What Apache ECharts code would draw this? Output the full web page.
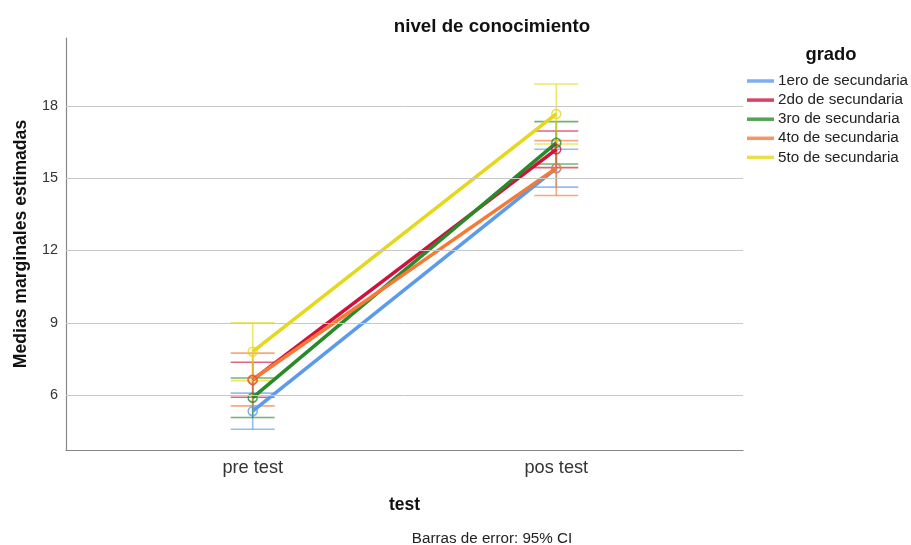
<!DOCTYPE html>
<html>
<head>
<meta charset="utf-8">
<script src="https://cdn.jsdelivr.net/npm/echarts@6/dist/echarts.min.js"></script>
<style>
  html, body { margin: 0; padding: 0; background: #fff; }
  #chart { width: 911px; height: 545px; }
</style>
</head>
<body>
<div id="chart"></div>
<script>
// Test occasions (x positions 1 and 2)
const testLabels = ['pre test', 'pos test'];
const testPos = [1, 2];

// Groups
const groups = ['1ero de secundaria', '2do de secundaria', '3ro de secundaria', '4to de secundaria', '5to de secundaria'];
const groupColors = ['#5B9BEA', '#D2103C', '#2A8A2A', '#F47A36', '#E3D81C'];

// Estimated marginal means [pre, pos]
const means1 = [5.33, 15.41];
const means2 = [6.63, 16.20];
const means3 = [5.89, 16.47];
const means4 = [6.65, 15.42];
const means5 = [7.80, 17.67];

// 95% CI lower / upper bounds [pre, pos]
const low1 = [4.58, 14.63];
const high1 = [6.08, 16.20];
const low2 = [5.91, 15.44];
const high2 = [7.36, 16.96];
const low3 = [5.07, 15.59];
const high3 = [6.71, 17.35];
const low4 = [5.55, 14.28];
const high4 = [7.74, 16.56];
const low5 = [6.60, 16.42];
const high5 = [9.00, 18.91];

const yTicks = [6, 9, 12, 15, 18];

const allMeans = [means1, means2, means3, means4, means5];
const allLow = [low1, low2, low3, low4, low5];
const allHigh = [high1, high2, high3, high4, high5];

const FONT = 'Liberation Sans, Arial, sans-serif';

const chart = echarts.init(document.getElementById('chart'));

const series = [];

// Horizontal reference lines at each tick value
series.push({
  type: 'line',
  name: '_grid',
  data: [],
  silent: true,
  z: 1,
  markLine: {
    silent: true,
    symbol: ['none', 'none'],
    label: { show: false },
    lineStyle: { color: '#c8c8c8', width: 1, type: 'solid' },
    data: yTicks.map(v => ({ yAxis: v }))
  }
});

// Error bars (CI whiskers with caps)
groups.forEach((g, i) => {
  series.push({
    type: 'custom',
    name: g + ' CI',
    z: 3,
    silent: true,
    itemStyle: { color: groupColors[i] },
    data: testPos.map((x, j) => [x, allLow[i][j], allHigh[i][j]]),
    renderItem: function (params, api) {
      const x = api.value(0);
      const lo = api.coord([x, api.value(1)]);
      const hi = api.coord([x, api.value(2)]);
      const cap = 22;
      const style = { stroke: groupColors[i], lineWidth: 1.6, opacity: 0.65 };
      return {
        type: 'group',
        children: [
          { type: 'line', shape: { x1: lo[0], y1: lo[1], x2: hi[0], y2: hi[1] }, style: style },
          { type: 'line', shape: { x1: lo[0] - cap, y1: lo[1], x2: lo[0] + cap, y2: lo[1] }, style: style },
          { type: 'line', shape: { x1: hi[0] - cap, y1: hi[1], x2: hi[0] + cap, y2: hi[1] }, style: style }
        ]
      };
    }
  });
});

// Mean lines with hollow markers
groups.forEach((g, i) => {
  series.push({
    type: 'line',
    name: g,
    z: 4,
    data: testPos.map((x, j) => [x, allMeans[i][j]]),
    symbol: 'circle',
    symbolSize: 9,
    itemStyle: { color: 'rgba(0,0,0,0)', borderColor: groupColors[i], borderWidth: 1.5, opacity: 0.8 },
    lineStyle: { color: groupColors[i], width: 3.6 },
    emphasis: { disabled: true }
  });
});

chart.setOption({
  animation: false,
  backgroundColor: '#ffffff',
  title: [
    {
      text: 'nivel de conocimiento',
      left: 492, top: 17, padding: 0, textAlign: 'center',
      textStyle: { fontFamily: FONT, fontSize: 18.7, fontWeight: 'bold', color: '#111' }
    },
    {
      text: 'grado',
      left: 831, top: 46, padding: 0, textAlign: 'center',
      textStyle: { fontFamily: FONT, fontSize: 18.4, fontWeight: 'bold', color: '#111' }
    },
    {
      text: 'Barras de error: 95% CI',
      left: 492, top: 531, padding: 0, textAlign: 'center',
      textStyle: { fontFamily: FONT, fontSize: 15.2, fontWeight: 'normal', color: '#222' }
    }
  ],
  legend: {
    data: groups.map((g, i) => ({ name: g, itemStyle: { color: groupColors[i], borderWidth: 0 } })),
    orient: 'vertical',
    left: 747, top: 73.5,
    padding: 0,
    itemWidth: 27, itemHeight: 3.5, itemGap: 4.1,
    icon: 'rect',
    textStyle: { fontFamily: FONT, fontSize: 15.2, lineHeight: 15, color: '#222', padding: [0, 0, 0, -1] },
    selectedMode: false
  },
  grid: { left: 66, right: 168, top: 38, bottom: 95 },
  xAxis: {
    type: 'value',
    min: 0.385, max: 2.615,
    name: 'test',
    nameLocation: 'middle',
    nameGap: 46,
    nameTextStyle: { fontFamily: FONT, fontSize: 17.5, fontWeight: 'bold', color: '#111' },
    axisLine: { show: true, lineStyle: { color: '#888', width: 1.2 } },
    axisTick: { show: false },
    splitLine: { show: false },
    axisLabel: {
      customValues: testPos,
      formatter: v => testLabels[testPos.indexOf(v)] || '',
      fontFamily: FONT, fontSize: 18.2, color: '#333', margin: 9
    }
  },
  yAxis: {
    type: 'value',
    min: 3.72, max: 20.82,
    name: 'Medias marginales estimadas',
    nameLocation: 'middle',
    nameGap: 36,
    nameTextStyle: { fontFamily: FONT, fontSize: 17.6, fontWeight: 'bold', color: '#111' },
    axisLine: { show: true, lineStyle: { color: '#888', width: 1.2 } },
    axisTick: { show: false },
    splitLine: { show: false },
    axisLabel: {
      customValues: yTicks,
      fontFamily: FONT, fontSize: 14.4, color: '#333', margin: 8
    }
  },
  series: series
});
</script>
</body>
</html>
